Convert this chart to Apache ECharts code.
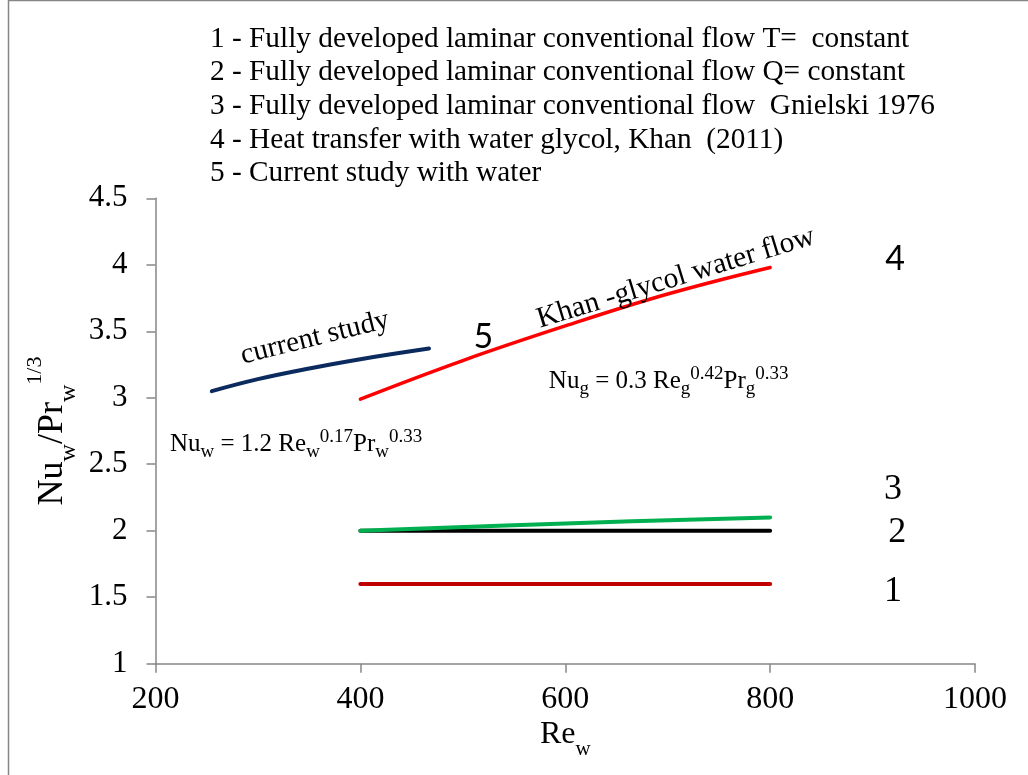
<!DOCTYPE html>
<html><head><meta charset="utf-8">
<script src="https://cdn.jsdelivr.net/npm/echarts@6/dist/echarts.min.js"></script>
<style>html,body{margin:0;padding:0;background:#fff}#c{width:1028px;height:775px}</style>
</head><body><div id="c"></div>
<script>
// ---- data ----
const xTicks = [200, 400, 600, 800, 1000];
const yTicks = [1, 1.5, 2, 2.5, 3, 3.5, 4, 4.5];
const currentStudyRe = [255, 300, 350, 400, 467];
const currentStudyNu = [3.05, 3.14, 3.22, 3.29, 3.37];
const khanRe = [400, 500, 600, 700, 800];
const khanNu = [2.99, 3.28, 3.54, 3.78, 3.98];
const gnielskiRe = [400, 600, 800];
const gnielskiNu = [2.00, 2.055, 2.10];
const constQRe = [400, 800];
const constQNu = [2.0, 2.0];
const constTRe = [400, 800];
const constTNu = [1.6, 1.6];
const legendLines = [
  '1 - Fully developed laminar conventional flow T=  constant',
  '2 - Fully developed laminar conventional flow Q= constant',
  '3 - Fully developed laminar conventional flow  Gnielski 1976',
  '4 - Heat transfer with water glycol, Khan  (2011)',
  '5 - Current study with water'
];
const curveNumbers = ['1', '2', '3', '4', '5'];
const curveNumberAnchors = [[920, 1.54], [924, 1.985], [920, 2.31], [922, 4.04], [520, 3.46]];

const SERIF = "'Liberation Serif','Times New Roman',serif";
const SANS = "Lato,'Liberation Sans',sans-serif";
const zip = (a, b) => a.map((v, i) => [v, b[i]]);

const chart = echarts.init(document.getElementById('c'), null, {renderer: 'canvas'});
const axisColor = '#868686';
function lineSeries(name, xs, ys, color, w) {
  return {name, type: 'line', data: zip(xs, ys), showSymbol: false, symbol: 'none',
    smooth: xs.length > 2 ? 0.4 : false, lineStyle: {color, width: w, cap: 'round'}, z: 3};
}
chart.setOption({
  animation: false,
  backgroundColor: '#fff',
  grid: {left: 155.5, right: 53, top: 198.3, bottom: 111.3, containLabel: false},
  xAxis: {
    type: 'value', min: xTicks[0], max: xTicks[xTicks.length - 1], interval: 200,
    axisLine: {lineStyle: {color: axisColor, width: 1.5}},
    axisTick: {show: true, length: 9, lineStyle: {color: axisColor, width: 1.5}},
    splitLine: {show: false},
    axisLabel: {color: '#000', fontFamily: SERIF, fontSize: 32, margin: 20, formatter: (v) => String(v)},
    name: '{a|Re}{b|w}', nameLocation: 'middle', nameGap: 46, nameMoveOverlap: false,
    nameTextStyle: {rich: {
      a: {fontFamily: SERIF, fontSize: 32, color: '#000', lineHeight: 50},
      b: {fontFamily: SERIF, fontSize: 21, color: '#000', lineHeight: 26, verticalAlign: 'bottom'}
    }}
  },
  yAxis: {
    type: 'value', min: yTicks[0], max: yTicks[yTicks.length - 1], interval: 0.5,
    axisLine: {show: true, lineStyle: {color: axisColor, width: 1.5}},
    axisTick: {show: true, length: 9, lineStyle: {color: axisColor, width: 1.5}},
    splitLine: {show: false},
    axisLabel: {color: '#000', fontFamily: SERIF, fontSize: 31, margin: 28, formatter: (v) => String(v)},
    name: '{a|Nu}{b|w}{a|/Pr}{b|w}{c|1/3}', nameLocation: 'middle', nameGap: 75, nameMoveOverlap: false,
    nameTextStyle: {rich: {
      a: {fontFamily: SERIF, fontSize: 36, color: '#000', lineHeight: 56},
      b: {fontFamily: SERIF, fontSize: 24, color: '#000', lineHeight: 30, verticalAlign: 'bottom'},
      c: {fontFamily: SERIF, fontSize: 22, color: '#000', lineHeight: 22, verticalAlign: 'top'}
    }}
  },
  series: [
    lineSeries('1', constTRe, constTNu, '#C00000', 4),
    lineSeries('2', constQRe, constQNu, '#000000', 4),
    lineSeries('3', gnielskiRe, gnielskiNu, '#00B050', 4),
    lineSeries('4', khanRe, khanNu, '#FF0000', 3.5),
    lineSeries('5', currentStudyRe, currentStudyNu, '#0B2A5E', 4)
  ]
});

const px = (p) => chart.convertToPixel({xAxisIndex: 0, yAxisIndex: 0}, p);
const deg = (d) => d * Math.PI / 180;
const graphics = [
  {type: 'rect', silent: true, z: 0, shape: {x: 8.5, y: 0.5, width: 1100, height: 1000},
    style: {fill: null, stroke: axisColor, lineWidth: 1.5}},
  {type: 'text', x: 210, y: 22, z: 10, style: {text: legendLines.join('\n'), fontFamily: SERIF,
    fontSize: 29.3, lineHeight: 33.7, fill: '#000', textAlign: 'left', textVerticalAlign: 'top'}}
];
curveNumbers.forEach((t, i) => {
  const p = px(curveNumberAnchors[i]);
  const sans = (t === '4' || t === '5');
  graphics.push({type: 'text', x: p[0], y: p[1], z: 10, style: {text: t,
    fontFamily: sans ? SANS : SERIF, fontSize: sans ? 34 : 36, fill: '#000',
    textAlign: 'center', textVerticalAlign: 'middle'}});
});
// rotated curve captions
let p = px([355.6, 3.45]);
graphics.push({type: 'text', x: p[0], y: p[1], rotation: deg(14), z: 10, style: {text: 'current study',
  fontFamily: SERIF, fontSize: 29, fill: '#000', textAlign: 'center', textVerticalAlign: 'middle'}});
p = px([708, 3.90]);
graphics.push({type: 'text', x: p[0], y: p[1], rotation: deg(17), z: 10, style: {text: 'Khan -glycol water flow',
  fontFamily: SERIF, fontSize: 29.5, fill: '#000', textAlign: 'center', textVerticalAlign: 'middle'}});
// correlations
const formulaRich = {
  a: {fontFamily: SERIF, fontSize: 25, fill: '#000', lineHeight: 34},
  b: {fontFamily: SERIF, fontSize: 19, fill: '#000', lineHeight: 20, verticalAlign: 'bottom'},
  c: {fontFamily: SERIF, fontSize: 19, fill: '#000', lineHeight: 24, verticalAlign: 'top'}
};
p = px([210, 2.65]);
graphics.push({type: 'text', x: 170, y: p[1], z: 10, style: {
  text: '{a|Nu}{b|w}{a| = 1.2 Re}{b|w}{c|0.17}{a|Pr}{b|w}{c|0.33}', rich: formulaRich,
  textAlign: 'left', textVerticalAlign: 'middle'}});
p = px([584, 3.125]);
graphics.push({type: 'text', x: p[0], y: p[1], z: 10, style: {
  text: '{a|Nu}{b|g}{a| = 0.3 Re}{b|g}{c|0.42}{a|Pr}{b|g}{c|0.33}', rich: formulaRich,
  textAlign: 'left', textVerticalAlign: 'middle'}});
chart.setOption({graphic: graphics});
</script></body></html>
